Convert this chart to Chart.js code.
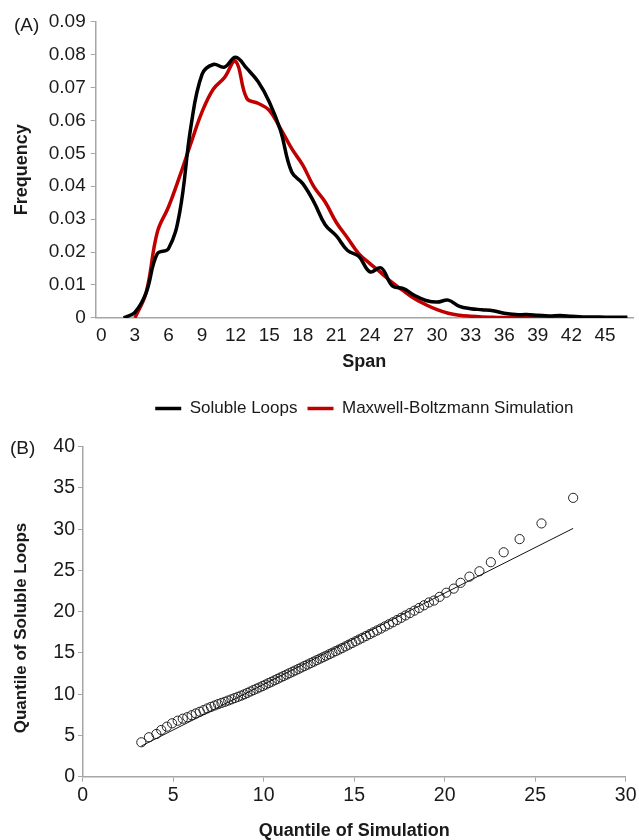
<!DOCTYPE html>
<html>
<head>
<meta charset="utf-8">
<script src="https://cdn.jsdelivr.net/npm/chart.js@4.4.1/dist/chart.umd.min.js"></script>
<style>
  body { margin: 0; background: #fff; }
  #wrap { position: relative; width: 639px; height: 840px; font-family: "Liberation Sans", Arial, sans-serif; }
  .panel { position: absolute; left: 0; }
  .tag { position: absolute; font-size: 19px; color: #1a1a1a; line-height: 1; }
  .ytitle { position: absolute; width: 260px; height: 20px; line-height: 20px; text-align: center;
    font-size: 17px; font-weight: bold; color: #1a1a1a; transform: rotate(-90deg); transform-origin: 50% 50%; }
</style>
</head>
<body>
<div id="wrap">
  <canvas id="chartA" class="panel" style="top:0" width="639" height="427"></canvas>
  <canvas id="chartB" class="panel" style="top:430px" width="639" height="412"></canvas>
  <div class="tag" style="left:14px; top:15px;">(A)</div>
  <div class="tag" style="left:10px; top:438px;">(B)</div>
  <div class="ytitle" style="left:-109px; top:618px;">Quantile of Soluble Loops</div>
</div>
<script>
// panel A: span distributions
var spanTicks = [0, 3, 6, 9, 12, 15, 18, 21, 24, 27, 30, 33, 36, 39, 42, 45];

var loopSpan = [2, 3, 4, 5, 6, 7, 8, 9, 10, 11, 12, 13, 14, 15, 16, 17, 18, 19, 20, 21, 22, 23, 24,
  25, 26, 27, 28, 29, 30, 31, 32, 33, 34, 35, 36, 37, 38, 39, 40, 41, 42, 43, 44, 45, 46, 47];
var loopFreq = [0, 0.0017, 0.0076, 0.0195, 0.021, 0.032, 0.058, 0.074, 0.077, 0.0762, 0.0792, 0.0758,
  0.0718, 0.0657, 0.057, 0.0444, 0.0408, 0.0352, 0.0283, 0.0249, 0.0205, 0.0187, 0.0140, 0.0152,
  0.0097, 0.0089, 0.0068, 0.0053, 0.0048, 0.0054, 0.0035, 0.0028, 0.0025, 0.0022, 0.0014, 0.001,
  0.001, 0.0008, 0.0006, 0.0007, 0.0005, 0.0003, 0.0003, 0.0002, 0.0002, 0.0002];

var simSpan = [3, 4, 5, 6, 7, 8, 9, 10, 11, 12, 13, 14, 15, 16, 17, 18, 19, 20, 21, 22, 23, 24, 25,
  26, 27, 28, 29, 30, 31, 32, 33, 34, 35, 36, 37, 38, 39, 40, 41, 42, 43];
var simFreq = [0, 0.0076, 0.026, 0.0337, 0.043, 0.053, 0.0626, 0.0695, 0.073, 0.078, 0.0667, 0.0652,
  0.0631, 0.0576, 0.0515, 0.0464, 0.0398, 0.0352, 0.029, 0.0243, 0.0195, 0.0165, 0.0137, 0.0107,
  0.0082, 0.0058, 0.004, 0.0025, 0.0014, 0.0008, 0.0005, 0.0003, 0.0002, 0.0001, 0.0001, 0.0001,
  0.0001, 0.0001, 0.0001, 0.0001, 0.0001];

// panel B: quantile-quantile
var simQuantile = [3.24, 3.66, 4.07, 4.34, 4.65, 4.94, 5.25, 5.53, 5.78, 6.02, 6.25, 6.47, 6.68, 6.89,
  7.09, 7.29, 7.48, 7.67, 7.86, 8.04, 8.22, 8.40, 8.58, 8.76, 8.93, 9.10, 9.27, 9.44, 9.61, 9.78,
  9.95, 10.11, 10.28, 10.44, 10.61, 10.77, 10.94, 11.10, 11.27, 11.43, 11.60, 11.76, 11.93, 12.09,
  12.26, 12.43, 12.60, 12.77, 12.94, 13.11, 13.28, 13.45, 13.63, 13.80, 13.98, 14.16, 14.34, 14.52,
  14.70, 14.89, 15.08, 15.27, 15.46, 15.66, 15.86, 16.06, 16.27, 16.48, 16.70, 16.92, 17.14, 17.37,
  17.60, 17.84, 18.08, 18.33, 18.59, 18.86, 19.13, 19.41, 19.72, 20.09, 20.50, 20.88, 21.37, 21.92,
  22.55, 23.26, 24.14, 25.35, 27.10];
var loopQuantile = [4.17, 4.78, 5.18, 5.66, 6.06, 6.47, 6.79, 7.03, 7.21, 7.45, 7.67, 7.87, 8.07, 8.28,
  8.46, 8.63, 8.79, 8.94, 9.08, 9.23, 9.38, 9.53, 9.68, 9.83, 9.99, 10.16, 10.33, 10.50, 10.67, 10.83,
  11.00, 11.17, 11.35, 11.51, 11.69, 11.86, 12.04, 12.20, 12.38, 12.55, 12.73, 12.89, 13.07, 13.24,
  13.42, 13.59, 13.77, 13.95, 14.13, 14.31, 14.48, 14.66, 14.85, 15.03, 15.22, 15.41, 15.60, 15.80,
  16.00, 16.21, 16.42, 16.63, 16.84, 17.06, 17.28, 17.50, 17.73, 17.96, 18.22, 18.47, 18.72, 18.99,
  19.26, 19.55, 19.83, 20.13, 20.45, 20.78, 21.12, 21.35, 21.80, 22.30, 22.80, 23.50, 24.25, 24.90,
  26.00, 27.20, 28.80, 30.70, 33.80];
var fitX = [3.24, 27.1];
var fitY = [3.72, 30.1];

function pairs(xs, ys) {
  return xs.map(function(x, i) { return { x: x, y: ys[i] }; });
}

var axisGray = '#a6a6a6';
var textCol = '#1a1a1a';
Chart.defaults.font.family = '"Liberation Sans", Arial, sans-serif';
Chart.defaults.color = textCol;

new Chart(document.getElementById('chartA'), {
  type: 'line',
  data: {
    datasets: [{
      label: 'Soluble Loops',
      data: pairs(loopSpan, loopFreq),
      borderColor: '#000000',
      backgroundColor: '#000000',
      borderWidth: 3.5,
      tension: 0.4
    }, {
      label: 'Maxwell-Boltzmann Simulation',
      data: pairs(simSpan, simFreq),
      borderColor: '#c00000',
      backgroundColor: '#c00000',
      borderWidth: 3.5,
      tension: 0.4
    }]
  },
  options: {
    responsive: false,
    animation: false,
    layout: { padding: { top: 21.7, right: 6, left: 0, bottom: 0 } },
    elements: { point: { radius: 0 } },
    plugins: {
      tooltip: { enabled: false },
      legend: {
        position: 'bottom',
        fullSize: false,
        labels: {
          usePointStyle: true,
          pointStyle: 'line',
          pointStyleWidth: 26,
          padding: 10,
          color: textCol,
          font: { size: 17 }
        }
      }
    },
    scales: {
      x: {
        type: 'linear',
        min: -0.5,
        max: 47.5,
        afterBuildTicks: function(scale) {
          scale.ticks = spanTicks.map(function(v) { return { value: v }; });
        },
        grid: { display: false, drawTicks: false },
        border: { color: axisGray, width: 1.5 },
        ticks: { font: { size: 19 }, padding: 6, maxRotation: 0, autoSkip: false },
        title: { display: true, text: 'Span', font: { size: 18, weight: 'bold' }, padding: { top: 0, bottom: 17 } },
        afterFit: function(scale) { scale.height = 72.1; }
      },
      y: {
        min: 0,
        max: 0.09,
        ticks: { stepSize: 0.01, font: { size: 19 }, padding: 5 },
        grid: { drawOnChartArea: false, tickLength: 5, color: axisGray },
        border: { color: axisGray, width: 1.5 },
        title: { display: true, text: 'Frequency', font: { size: 18, weight: 'bold' }, padding: { top: 11, bottom: 0 } },
        afterFit: function(scale) { scale.width = 95.7; }
      }
    }
  }
});

new Chart(document.getElementById('chartB'), {
  type: 'scatter',
  data: {
    datasets: [{
      type: 'line',
      data: pairs(fitX, fitY),
      borderColor: '#111111',
      borderWidth: 1,
      pointRadius: 0,
      tension: 0
    }, {
      data: pairs(simQuantile, loopQuantile),
      pointStyle: 'circle',
      pointRadius: 4.6,
      borderWidth: 1,
      borderColor: '#222222',
      backgroundColor: 'rgba(0,0,0,0)'
    }]
  },
  options: {
    responsive: false,
    animation: false,
    layout: { padding: { top: 16.7, right: 10.7, left: 0, bottom: 0 } },
    plugins: { legend: { display: false }, tooltip: { enabled: false } },
    scales: {
      x: {
        type: 'linear',
        min: 0,
        max: 30,
        ticks: { stepSize: 5, font: { size: 19.5 }, padding: 2.5, maxRotation: 0 },
        grid: { drawOnChartArea: false, tickLength: 5, color: axisGray },
        border: { color: axisGray, width: 1.5 },
        title: { display: true, text: 'Quantile of Simulation', font: { size: 18, weight: 'bold' }, padding: { top: 0, bottom: 0 } },
        afterFit: function(scale) { scale.height = 65.3; }
      },
      y: {
        min: 0,
        max: 40,
        ticks: { stepSize: 5, font: { size: 19.5 }, padding: 3 },
        grid: { drawOnChartArea: false, tickLength: 4.7, color: axisGray },
        border: { color: axisGray, width: 1.5 },
        title: { display: false },
        afterFit: function(scale) { scale.width = 82.7; }
      }
    }
  }
});
</script>
</body>
</html>
